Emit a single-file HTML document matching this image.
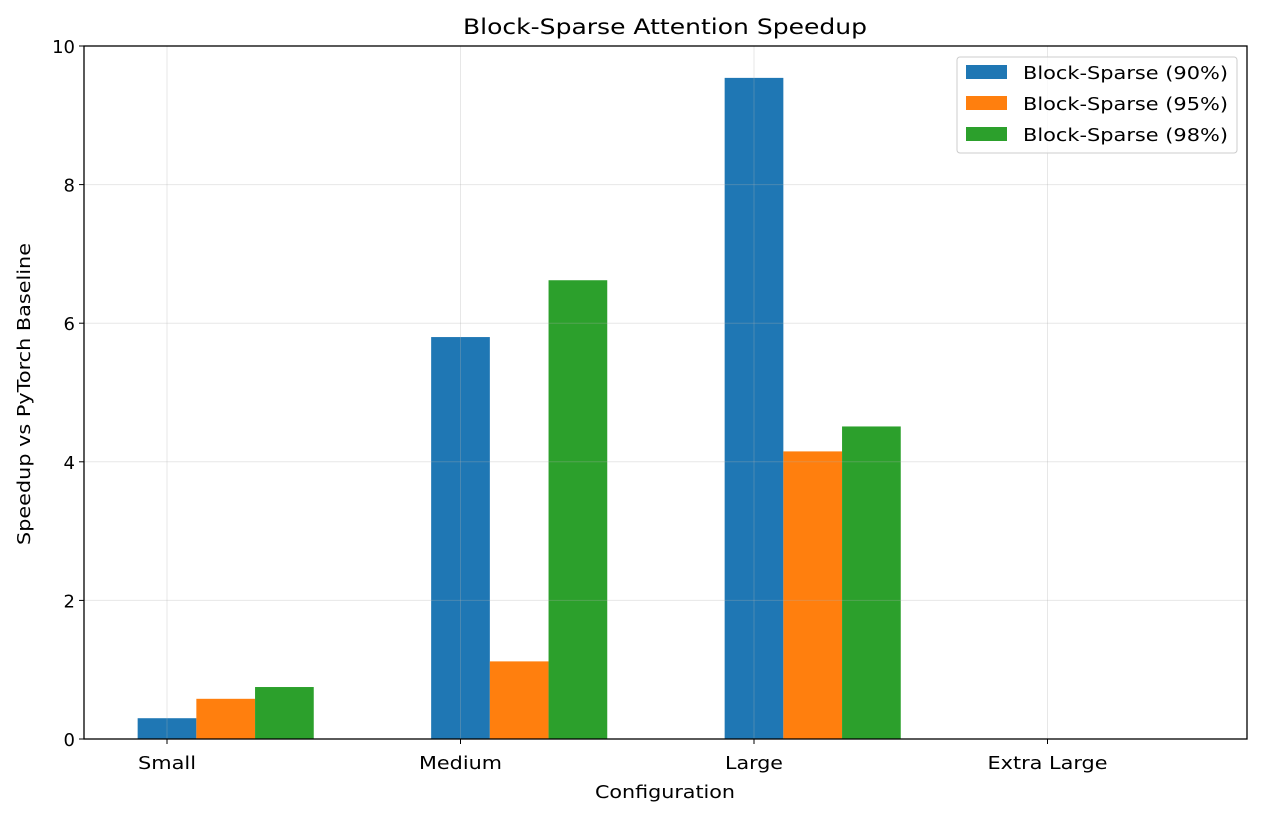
<!DOCTYPE html>
<html><head><meta charset="utf-8"><style>
body{margin:0;background:#fff;}
svg text{font-family:"DejaVu Sans","Liberation Sans",sans-serif;fill:#000;}
</style></head><body>
<svg id="chart" width="1261" height="817" xmlns="http://www.w3.org/2000/svg">
<rect width="1261" height="817" fill="#fff"/>
<text x="665" y="34" font-size="21" text-anchor="middle" textLength="404" lengthAdjust="spacingAndGlyphs">Block-Sparse Attention Speedup</text>
<g id="bars"></g>
<g id="grid"></g>
<rect x="84" y="46" width="1163" height="693" fill="none" stroke="#000" stroke-width="1.3"/>
<g id="ticks"></g>
<text x="665" y="798" font-size="18" text-anchor="middle" textLength="140" lengthAdjust="spacingAndGlyphs">Configuration</text>
<text transform="translate(30,394) rotate(-90)" font-size="18" text-anchor="middle" textLength="302" lengthAdjust="spacingAndGlyphs">Speedup vs PyTorch Baseline</text>
<g id="legend">
<rect x="957" y="57" width="280" height="96" rx="3" fill="#fff" fill-opacity="0.8" stroke="#ccc"/>
</g>
</svg>
<script>
const categories=["Small","Medium","Large","Extra Large"];
const seriesNames=["Block-Sparse (90%)","Block-Sparse (95%)","Block-Sparse (98%)"];
const s90=[0.30,5.80,9.54,0];
const s95=[0.58,1.12,4.15,0];
const s98=[0.75,6.62,4.51,0];
const yTicks=[0,2,4,6,8,10];
const colors=["#1f77b4","#ff7f0e","#2ca02c"];
const NS="http://www.w3.org/2000/svg";
const x0=84,x1=1247,y0=739,y1=46;
const xScale=v=>167+v*293.5;
const bw=0.2*293.5;
const yScale=v=>y0-(v/10)*(y0-y1);
const catWidths=[58,83,58,120];
function mk(tag,attrs,parent){const e=document.createElementNS(NS,tag);for(const k in attrs)e.setAttribute(k,attrs[k]);parent.appendChild(e);return e;}
const bars=document.getElementById('bars'),grid=document.getElementById('grid'),ticks=document.getElementById('ticks'),legend=document.getElementById('legend');
[s90,s95,s98].forEach((s,j)=>{s.forEach((v,i)=>{
 const cx=xScale(i)+j*bw;
 const r=mk('rect',{x:cx-bw/2,y:yScale(v),width:bw,height:y0-yScale(v),fill:colors[j]},bars);
 
 
});});
yTicks.forEach(t=>{
 const y=yScale(t);
 const g=mk('line',{x1:x0,x2:x1,y1:y,y2:y,stroke:'#b0b0b0','stroke-opacity':0.3,'stroke-width':1},grid);
 
 
 mk('line',{x1:x0-5,x2:x0,y1:y,y2:y,stroke:'#000'},ticks);
 const tx=mk('text',{x:x0-9,y:y+7,'font-size':18,'text-anchor':'end'},ticks);
 tx.textContent=t;
 
 
});
categories.forEach((c,i)=>{
 const x=xScale(i);
 const g=mk('line',{x1:x,x2:x,y1:y1,y2:y0,stroke:'#b0b0b0','stroke-opacity':0.3,'stroke-width':1},grid);
 
 
 mk('line',{x1:x,x2:x,y1:y0,y2:y0+5,stroke:'#000'},ticks);
 const tx=mk('text',{x:x,y:y0+30,'font-size':18,'text-anchor':'middle',textLength:catWidths[i],lengthAdjust:'spacingAndGlyphs'},ticks);
 tx.textContent=c;
 
 
});
seriesNames.forEach((n,j)=>{
 const y=72+j*31;
 const p=mk('rect',{x:966,y:y-7,width:41,height:14,fill:colors[j]},legend);
 
 
 const t=mk('text',{x:1023,y:y+7,'font-size':18,textLength:205,lengthAdjust:'spacingAndGlyphs'},legend);
 t.textContent=n;
 
 
});
</script>
</body></html>
